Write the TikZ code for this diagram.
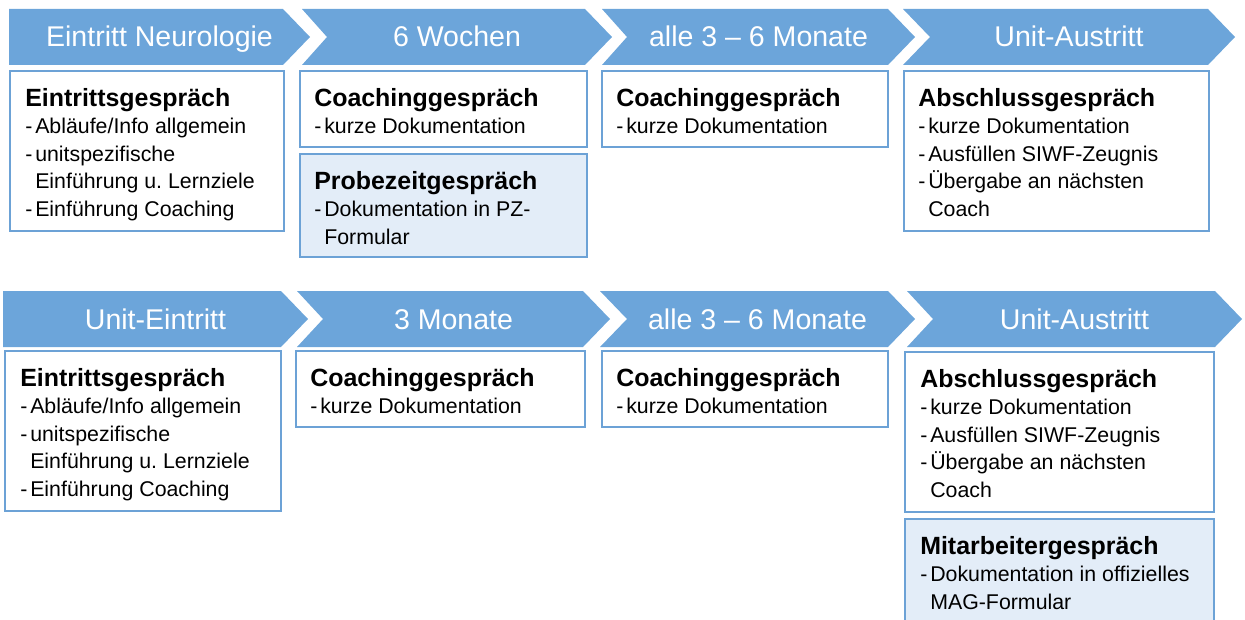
\documentclass[tikz,border=0pt]{standalone}
\usepackage{fontspec}
\setmainfont{Liberation Sans}
\frenchspacing
\definecolor{phaseblue}{HTML}{6CA5DA}
\definecolor{boxblue}{HTML}{6CA2D6}
\definecolor{pzblue}{HTML}{E3EDF8}
\newcommand{\titel}[1]{{\fontsize{18.7}{20.6}\selectfont\bfseries #1}}
\newcommand{\punkt}{\makebox[7.5pt][l]{-}}
\newcommand{\weiter}{\hspace*{7.5pt}}

\begin{document}
\begin{tikzpicture}[x=0.75pt,y=-0.75pt,
    phase/.style={fill=phaseblue},
    phaselabel/.style={text=white,anchor=base,inner sep=0pt,font=\fontsize{21.4}{25}\selectfont},
    box/.style={draw=boxblue,line width=2.2pt,fill=white},
    pzbox/.style={box,fill=pzblue},
    boxtext/.style={anchor=north west,align=left,inner sep=0pt,font=\fontsize{16}{20.6}\selectfont}]
    \clip (0,0) rectangle (1245,620);
    % Phasen oben
    \foreach \l/\r/\n/\txt [count=\i] in {9/310/0/Eintritt Neurologie,302/612/25/6 Wochen,%
        602/915/25/alle 3 \textendash{} 6 Monate,903/1235/27/Unit-Austritt}{%
        \fill[phase] (\l,9) -- (\r-27,9) -- (\r,37) -- (\r-27,65) -- (\l,65) -- (\l+\n,37) -- cycle;
        \node[phaselabel] (oben\i) at ({(\l+\r)/2},47) {\txt};
    }
    % Phasen unten
    \foreach \l/\r/\n/\txt [count=\i] in {3/308/0/Unit-Eintritt,297/610/26/3 Monate,%
        600/915/27/alle 3 \textendash{} 6 Monate,907/1242/26/Unit-Austritt}{%
        \fill[phase] (\l,291) -- (\r-27,291) -- (\r,319) -- (\r-27,347) -- (\l,347) -- (\l+\n,319) -- cycle;
        \node[phaselabel] (unten\i) at ({(\l+\r)/2},329) {\txt};
    }

    \draw[box] (10,71) coordinate (b11) rectangle (284,231);
    \node[boxtext] (t11) at ([shift={(15,17)}]b11) {\titel{Eintrittsgespräch}\\
        \punkt Abläufe/Info allgemein\\ \punkt unitspezifische\\
        \weiter Einführung u. Lernziele\\ \punkt Einführung Coaching};
    \draw[box] (300,71) coordinate (b12) rectangle (587,147);
    \node[boxtext] (t12) at ([shift={(14,17)}]b12) {\titel{Coachinggespräch}\\
        \punkt kurze Dokumentation};
    \draw[pzbox] (300,154) coordinate (b12pz) rectangle (587,257);
    \node[boxtext] (t12pz) at ([shift={(14,17)}]b12pz) {\titel{Probezeitgespräch}\\
        \punkt Dokumentation in PZ-\\ \weiter Formular};
    \draw[box] (602,71) coordinate (b13) rectangle (888,147);
    \node[boxtext] (t13) at ([shift={(14,17)}]b13) {\titel{Coachinggespräch}\\
        \punkt kurze Dokumentation};
    \draw[box] (904,71) coordinate (b14) rectangle (1209,231);
    \node[boxtext] (t14) at ([shift={(14,17)}]b14) {\titel{Abschlussgespräch}\\
        \punkt kurze Dokumentation\\ \punkt Ausfüllen SIWF-Zeugnis\\
        \punkt Übergabe an nächsten\\ \weiter Coach};

    \draw[box] (5,351) coordinate (b21) rectangle (281,511);
    \node[boxtext] (t21) at ([shift={(15,17)}]b21) {\titel{Eintrittsgespräch}\\
        \punkt Abläufe/Info allgemein\\ \punkt unitspezifische\\
        \weiter Einführung u. Lernziele\\ \punkt Einführung Coaching};
    \draw[box] (296,351) coordinate (b22) rectangle (585,427);
    \node[boxtext] (t22) at ([shift={(14,17)}]b22) {\titel{Coachinggespräch}\\
        \punkt kurze Dokumentation};
    \draw[box] (602,351) coordinate (b23) rectangle (888,427);
    \node[boxtext] (t23) at ([shift={(14,17)}]b23) {\titel{Coachinggespräch}\\
        \punkt kurze Dokumentation};
    \draw[box] (905,352) coordinate (b24) rectangle (1214,512);
    \node[boxtext] (t24) at ([shift={(15,17)}]b24) {\titel{Abschlussgespräch}\\
        \punkt kurze Dokumentation\\ \punkt Ausfüllen SIWF-Zeugnis\\
        \punkt Übergabe an nächsten\\ \weiter Coach};
    \draw[pzbox] (905,519) coordinate (b24mag) rectangle (1214,630);
    \node[boxtext] (t24mag) at ([shift={(15,17)}]b24mag) {\titel{Mitarbeitergespräch}\\
        \punkt Dokumentation in offizielles\\ \weiter MAG-Formular};
\end{tikzpicture}
\end{document}
